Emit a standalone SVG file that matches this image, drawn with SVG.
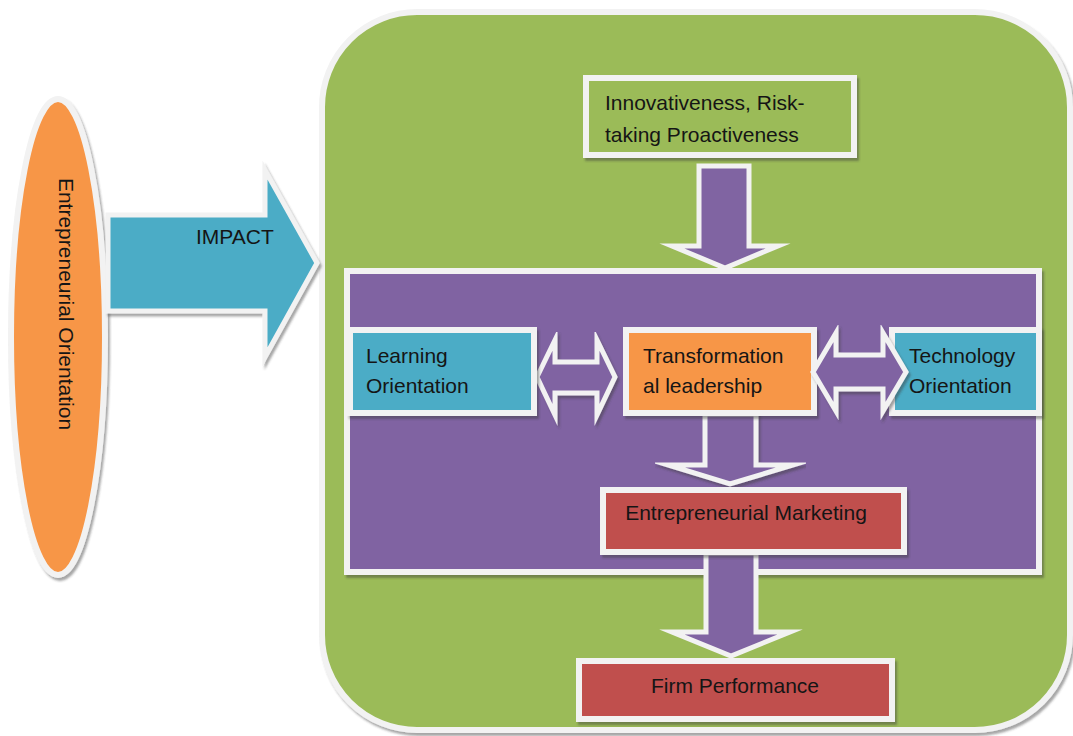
<svg xmlns="http://www.w3.org/2000/svg" width="1073" height="736" viewBox="0 0 1073 736">
<defs>
<filter id="sh" x="-10%" y="-10%" width="120%" height="130%">
<feDropShadow dx="2" dy="3" stdDeviation="1.2" flood-color="#3a3a3a" flood-opacity="0.45"/>
</filter>
</defs>
<style>
.box{stroke:#f2f2f2;stroke-width:6;filter:url(#sh)}
.arr{stroke:#f2f2f2;stroke-width:5;stroke-linejoin:miter;stroke-miterlimit:10}
.t{font-family:"Liberation Sans",Arial,sans-serif;font-size:21px;fill:#151515}
.green{fill:#9bbb59}.purple{fill:#8064a2}.blue{fill:#4bacc6}.orange{fill:#f79646}.red{fill:#c0504d}
</style>
<rect width="1073" height="736" fill="#ffffff"/>

<g id="container">
<rect x="322" y="12" width="748" height="718" rx="95" ry="95" class="box green" stroke-width="5"/>
</g>

<g id="entrepreneurial-orientation">
<ellipse cx="58" cy="337" rx="47" ry="238" class="box orange" stroke-width="5"/>
<text class="t" transform="translate(66,304) rotate(90)" text-anchor="middle" dominant-baseline="central">Entrepreneurial Orientation</text>
</g>

<g id="impact-arrow">
<polygon class="arr blue" points="108,215 265,215 265,170 317,263 265,357 265,311 108,311" filter="url(#sh)"/>
<text class="t" x="196" y="244">IMPACT</text>
</g>

<g id="eo-dimensions">
<rect x="586" y="78" width="268" height="77" class="box green"/>
<text class="t" x="605" y="110">Innovativeness, Risk-</text>
<text class="t" x="605" y="142">taking Proactiveness</text>
</g>

<g id="inner-panel">
<rect x="347" y="271" width="692" height="301" class="box purple"/>
</g>

<g id="connectors">
<polygon class="arr purple" points="699,166 749,166 749,246 778,246 725,268 672,246 699,246"/>
<polygon class="arr purple" points="537,377 555,340 555,362 597,362 597,340 615,377 597,415 597,393 555,393 555,415" filter="url(#sh)"/>
<polygon class="arr purple" points="705,414 756,414 756,465 793,465 730,484 668,465 705,465" filter="url(#sh)"/>
<polygon class="arr purple" points="706,553 756,553 756,632 790,632 731,656 672,632 706,632"/>
</g>

<g id="learning-orientation">
<rect x="350" y="330" width="184" height="83" class="box blue"/>
<text class="t" x="366" y="363">Learning</text>
<text class="t" x="366" y="393">Orientation</text>
</g>

<g id="transformational-leadership">
<rect x="626" y="330" width="188" height="83" class="box orange"/>
<text class="t" x="643" y="363">Transformation</text>
<text class="t" x="643" y="393">al leadership</text>
</g>

<g id="technology-orientation">
<rect x="892" y="330" width="147" height="83" class="box blue"/>
<text class="t" x="909" y="363">Technology</text>
<text class="t" x="909" y="393">Orientation</text>
</g>

<g id="connectors-right">
<polygon class="arr purple" points="813,372 836,333 836,355 883,355 883,333 906,372 883,411 883,389 836,389 836,411" filter="url(#sh)"/>
</g>

<g id="entrepreneurial-marketing">
<rect x="603" y="490" width="301" height="62" class="box red"/>
<text class="t" x="746" y="520" text-anchor="middle">Entrepreneurial Marketing</text>
</g>

<g id="firm-performance">
<rect x="579" y="661" width="313" height="58" class="box red"/>
<text class="t" x="735" y="693" text-anchor="middle">Firm Performance</text>
</g>
</svg>
